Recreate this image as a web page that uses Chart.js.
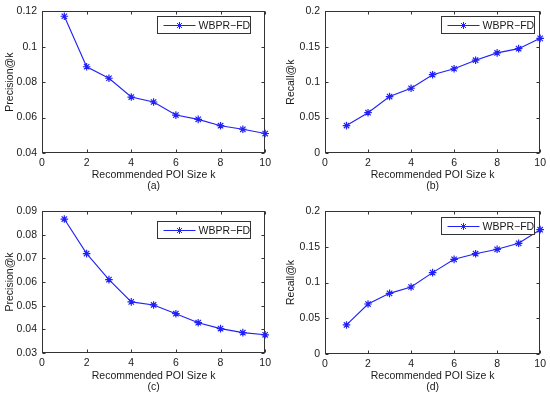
<!DOCTYPE html>
<html>
<head>
<meta charset="utf-8">
<script src="https://cdn.jsdelivr.net/npm/chart.js@4.4.0/dist/chart.umd.min.js"></script>
<style>
  html, body { margin: 0; padding: 0; background: #fff; }
  #wrap { position: relative; width: 550px; height: 395px; }
  .panel { position: absolute; }
</style>
</head>
<body>
<div id="wrap">
  <div class="panel" style="left:0;top:0;width:275px;height:197px"><canvas id="chart-a"></canvas></div>
  <div class="panel" style="left:275px;top:0;width:275px;height:197px"><canvas id="chart-b"></canvas></div>
  <div class="panel" style="left:0;top:197px;width:275px;height:198px"><canvas id="chart-c"></canvas></div>
  <div class="panel" style="left:275px;top:197px;width:275px;height:198px"><canvas id="chart-d"></canvas></div>
</div>
<script>
// ---- data ----
const kValues = [1, 2, 3, 4, 5, 6, 7, 8, 9, 10];
const precisionA = [0.1172, 0.0887, 0.0822, 0.0716, 0.0688, 0.0614, 0.0590, 0.0554, 0.0534, 0.0510];
const recallB    = [0.0387, 0.0569, 0.0797, 0.0914, 0.1105, 0.1189, 0.1310, 0.1413, 0.1473, 0.1618];
const precisionC = [0.0866, 0.0720, 0.0610, 0.0516, 0.0503, 0.0466, 0.0428, 0.0403, 0.0386, 0.0377];
const recallD    = [0.0406, 0.0699, 0.0848, 0.0937, 0.1138, 0.1324, 0.1403, 0.1464, 0.1548, 0.1739];
const seriesLabel = 'WBPR\u2212FD';
const xTitle = 'Recommended POI Size k';

const FONT = '"Liberation Sans", Arial, Helvetica, sans-serif';
const BLUE = '#2020f8';
const INK = '#1a1a1a';

// MATLAB-ish box with inward ticks on all four sides + legend inside the axes
const boxPlugin = {
  id: 'matlabBox',
  beforeDatasetsDraw(chart) {
    const { ctx, chartArea: a, scales: { x, y } } = chart;
    const L = Math.round(a.left) + 0.5, R = Math.round(a.right) - 0.5;
    const T = Math.round(a.top) + 0.5, B = Math.round(a.bottom) - 0.5;
    const len = 3;
    ctx.save();
    ctx.strokeStyle = '#333';
    ctx.lineWidth = 1;
    ctx.beginPath();
    x.ticks.forEach(t => {
      const px = Math.round(x.getPixelForValue(t.value)) + 0.5;
      ctx.moveTo(px, B); ctx.lineTo(px, B - len);
      ctx.moveTo(px, T); ctx.lineTo(px, T + len);
    });
    y.ticks.forEach(t => {
      const py = Math.round(y.getPixelForValue(t.value)) + 0.5;
      ctx.moveTo(L, py); ctx.lineTo(L + len, py);
      ctx.moveTo(R, py); ctx.lineTo(R - len, py);
    });
    ctx.stroke();
    ctx.strokeRect(L, T, R - L, B - T);
    ctx.restore();
  },
  afterDraw(chart, args, opts) {
    const { ctx, chartArea: a } = chart;
    const w = 93, h = 17;
    const x0 = Math.round(a.right - opts.right - w) + 0.5;
    const y0 = Math.round(a.top + opts.top) + 0.5;
    const ly = Math.round(y0 + h / 2) + 0.5;
    ctx.save();
    ctx.fillStyle = '#fff';
    ctx.fillRect(x0, y0, w, h);
    ctx.strokeStyle = '#333';
    ctx.lineWidth = 1;
    ctx.strokeRect(x0, y0, w, h);
    ctx.strokeStyle = BLUE;
    ctx.fillStyle = BLUE;
    ctx.beginPath();
    ctx.moveTo(x0 + 6, ly); ctx.lineTo(x0 + 38, ly);
    ctx.stroke();
    Chart.helpers.drawPoint(ctx, { pointStyle: 'star', radius: 3.5, borderWidth: 1.2, rotation: 0 }, x0 + 22, ly);
    ctx.fillStyle = INK;
    ctx.font = '10.5px ' + FONT;
    ctx.textBaseline = 'middle';
    ctx.fillText(chart.data.datasets[0].label, x0 + 41, ly + 0.5);
    ctx.restore();
  }
};

function fmt(v) {
  return String(+v.toFixed(4));
}

function makePanel(p) {
  const a = p.area;
  new Chart(document.getElementById(p.id), {
    type: 'line',
    data: {
      datasets: [{
        label: seriesLabel,
        data: kValues.map((k, i) => ({ x: k, y: p.values[i] })),
        borderColor: BLUE,
        borderWidth: 1.1,
        pointStyle: 'star',
        pointRadius: 3.8,
        pointBorderColor: BLUE,
        pointBackgroundColor: BLUE,
        pointBorderWidth: 1.2,
        tension: 0,
        fill: false,
        clip: false,
      }],
    },
    options: {
      responsive: true,
      maintainAspectRatio: false,
      animation: false,
      events: [],
      layout: { padding: { top: a.top, right: p.W - a.right, left: 0, bottom: 0 } },
      plugins: {
        legend: { display: false },
        tooltip: { enabled: false },
        matlabBox: p.legend,
      },
      scales: {
        x: {
          type: 'linear',
          min: 0, max: 10,
          ticks: { stepSize: 2, padding: 4, color: INK, font: { size: 10.5, family: FONT }, callback: fmt, maxRotation: 0 },
          grid: { display: false, drawTicks: false },
          border: { display: false },
          title: {
            display: true,
            text: [xTitle, p.caption],
            color: INK,
            font: { size: 10.5, family: FONT, lineHeight: 1.1 },
            padding: { top: 0, bottom: p.xTitlePad },
          },
          afterFit: s => { s.height = p.H - a.bottom; },
        },
        y: {
          min: p.yMin, max: p.yMax,
          ticks: { stepSize: p.yStep, padding: 5, color: INK, font: { size: 10.5, family: FONT }, callback: fmt },
          grid: { display: false, drawTicks: false },
          border: { display: false },
          title: {
            display: true,
            text: p.yTitle,
            color: INK,
            font: { size: 10.5, family: FONT, lineHeight: 1.1 },
            padding: { top: p.yTitlePad, bottom: 0 },
          },
          afterFit: s => { s.width = a.left; },
        },
      },
    },
    plugins: [boxPlugin],
  });
}

makePanel({ id: 'chart-a', values: precisionA, yTitle: 'Precision@k', caption: '(a)',
  yMin: 0.04, yMax: 0.12, yStep: 0.02, W: 275, H: 197,
  area: { left: 42, right: 266, top: 10, bottom: 153 },
  legend: { right: 15, top: 5 }, xTitlePad: 5, yTitlePad: 4 });

makePanel({ id: 'chart-b', values: recallB, yTitle: 'Recall@k', caption: '(b)',
  yMin: 0, yMax: 0.2, yStep: 0.05, W: 275, H: 197,
  area: { left: 50, right: 266, top: 10, bottom: 153 },
  legend: { right: 6, top: 5 }, xTitlePad: 5, yTitlePad: 10 });

makePanel({ id: 'chart-c', values: precisionC, yTitle: 'Precision@k', caption: '(c)',
  yMin: 0.03, yMax: 0.09, yStep: 0.01, W: 275, H: 198,
  area: { left: 42, right: 266, top: 14, bottom: 156 },
  legend: { right: 15, top: 10 }, xTitlePad: 2, yTitlePad: 4 });

makePanel({ id: 'chart-d', values: recallD, yTitle: 'Recall@k', caption: '(d)',
  yMin: 0, yMax: 0.2, yStep: 0.05, W: 275, H: 198,
  area: { left: 50, right: 266, top: 14, bottom: 157 },
  legend: { right: 6, top: 6 }, xTitlePad: 2, yTitlePad: 10 });
</script>
</body>
</html>
